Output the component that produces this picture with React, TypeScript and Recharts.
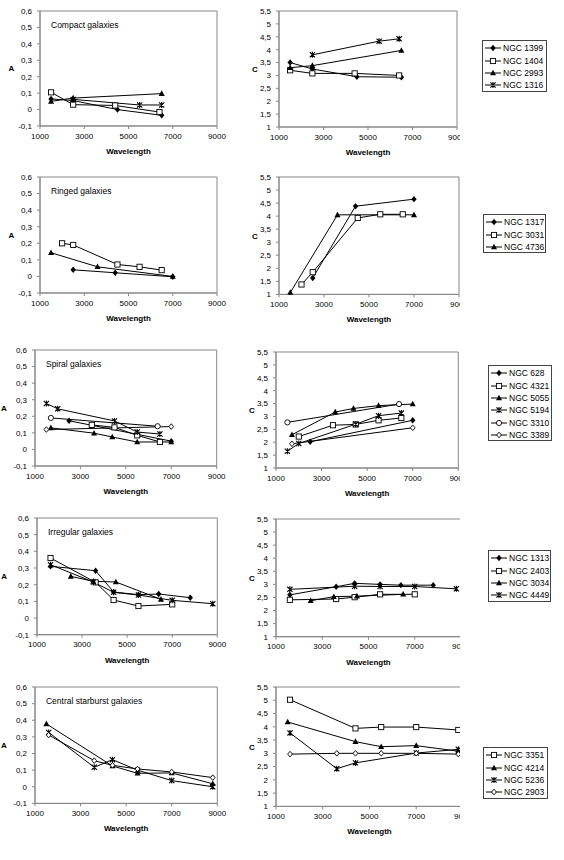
import React from "react";
import { LineChart, Line, XAxis, YAxis, ReferenceArea } from "recharts";

type Pt = [number, number];
type Kind = "diamond" | "square" | "triangle" | "star" | "circle" | "odiamond";

// axis ticks
const waveTicks = [1000, 3000, 5000, 7000, 9000];
const aTicks = [-0.1, 0, 0.1, 0.2, 0.3, 0.4, 0.5, 0.6];
const cTicks = [1, 1.5, 2, 2.5, 3, 3.5, 4, 4.5, 5, 5.5];

// Compact galaxies
const compactNames = ["NGC 1399", "NGC 1404", "NGC 2993", "NGC 1316"];
const compactKinds: Kind[] = ["diamond", "square", "triangle", "star"];
const cmp1399A: Pt[] = [[1500, 0.065], [2500, 0.055], [4500, 0.0], [6500, -0.035]];
const cmp1404A: Pt[] = [[1500, 0.105], [2500, 0.03], [4400, 0.025], [6400, -0.015]];
const cmp2993A: Pt[] = [[1500, 0.05], [2500, 0.07], [6500, 0.097]];
const cmp1316A: Pt[] = [[2500, 0.062], [5500, 0.028], [6500, 0.028]];
const cmp1399C: Pt[] = [[1500, 3.5], [2500, 3.25], [4500, 2.95], [6500, 2.93]];
const cmp1404C: Pt[] = [[1500, 3.2], [2500, 3.08], [4400, 3.08], [6400, 3.0]];
const cmp2993C: Pt[] = [[1500, 3.3], [2500, 3.38], [6500, 3.97]];
const cmp1316C: Pt[] = [[2500, 3.8], [5500, 4.33], [6400, 4.42]];

// Ringed galaxies
const ringNames = ["NGC 1317", "NGC 3031", "NGC 4736"];
const ringKinds: Kind[] = ["diamond", "square", "triangle"];
const rng1317A: Pt[] = [[2500, 0.04], [4400, 0.022], [7000, -0.002]];
const rng3031A: Pt[] = [[2000, 0.2], [2500, 0.19], [4500, 0.072], [5500, 0.058], [6500, 0.038]];
const rng4736A: Pt[] = [[1500, 0.143], [3600, 0.058], [7000, 0.0]];
const rng1317C: Pt[] = [[2500, 1.63], [4400, 4.38], [7000, 4.65]];
const rng3031C: Pt[] = [[2000, 1.38], [2500, 1.85], [4500, 3.93], [5500, 4.07], [6500, 4.07]];
const rng4736C: Pt[] = [[1500, 1.07], [3600, 4.05], [7000, 4.05]];

// Spiral galaxies
const spiralNames = ["NGC 628", "NGC 4321", "NGC 5055", "NGC 5194", "NGC 3310", "NGC 3389"];
const spiralKinds: Kind[] = ["diamond", "square", "triangle", "star", "circle", "odiamond"];
const sp628A: Pt[] = [[2500, 0.173], [7000, 0.05]];
const sp4321A: Pt[] = [[3500, 0.148], [4500, 0.133], [5500, 0.085], [6500, 0.045]];
const sp5055A: Pt[] = [[1700, 0.13], [3600, 0.098], [4400, 0.075], [5500, 0.045], [7000, 0.045]];
const sp5194A: Pt[] = [[1500, 0.277], [2000, 0.245], [4500, 0.172], [5500, 0.105], [6500, 0.093]];
const sp3310A: Pt[] = [[1700, 0.19], [6400, 0.14]];
const sp3389A: Pt[] = [[1500, 0.12], [7000, 0.138]];
const sp628C: Pt[] = [[2500, 2.02], [7000, 2.85]];
const sp4321C: Pt[] = [[2000, 2.22], [3500, 2.66], [4500, 2.69], [5500, 2.85], [6500, 2.94]];
const sp5055C: Pt[] = [[1700, 2.29], [3600, 3.17], [4400, 3.31], [5500, 3.42], [7000, 3.48]];
const sp5194C: Pt[] = [[1500, 1.65], [2000, 1.95], [4500, 2.7], [5500, 3.03], [6500, 3.13]];
const sp3310C: Pt[] = [[1500, 2.77], [6400, 3.48]];
const sp3389C: Pt[] = [[1700, 1.94], [7000, 2.56]];

// Irregular galaxies
const irrNames = ["NGC 1313", "NGC 2403", "NGC 3034", "NGC 4449"];
const irrKinds: Kind[] = ["diamond", "square", "triangle", "star"];
const ir1313A: Pt[] = [[1600, 0.31], [3600, 0.284], [4400, 0.156], [5500, 0.14], [6400, 0.144], [7800, 0.122]];
const ir2403A: Pt[] = [[1600, 0.36], [3600, 0.214], [4400, 0.108], [5500, 0.072], [7000, 0.082]];
const ir3034A: Pt[] = [[2500, 0.25], [3500, 0.22], [4500, 0.216], [6500, 0.112]];
const ir4449A: Pt[] = [[1600, 0.32], [3500, 0.216], [4400, 0.154], [5500, 0.138], [7000, 0.106], [8800, 0.086]];
const ir1313C: Pt[] = [[1600, 2.6], [3600, 2.91], [4400, 3.04], [5500, 3.0], [6400, 2.97], [7800, 2.97]];
const ir2403C: Pt[] = [[1600, 2.41], [3600, 2.44], [4400, 2.51], [5500, 2.62], [7000, 2.62]];
const ir3034C: Pt[] = [[2500, 2.375], [3500, 2.53], [4500, 2.55], [6500, 2.62]];
const ir4449C: Pt[] = [[1600, 2.81], [4400, 2.93], [5500, 2.92], [7000, 2.92], [8800, 2.83]];

// Central starburst galaxies
const sbNames = ["NGC 3351", "NGC 4214", "NGC 5236", "NGC 2903"];
const sbKinds: Kind[] = ["square", "triangle", "star", "odiamond"];
const sb4214A: Pt[] = [[1500, 0.378], [4400, 0.125], [5500, 0.081], [7000, 0.083], [8800, 0.018]];
const sb5236A: Pt[] = [[1600, 0.327], [3600, 0.117], [4400, 0.163], [5500, 0.1], [7000, 0.037], [8800, 0.0]];
const sb2903A: Pt[] = [[1600, 0.311], [3600, 0.157], [4400, 0.129], [5500, 0.107], [7000, 0.089], [8800, 0.055]];
const sb3351C: Pt[] = [[1600, 5.02], [4400, 3.94], [5500, 3.99], [7000, 3.99], [8800, 3.88]];
const sb4214C: Pt[] = [[1500, 4.18], [4400, 3.44], [5500, 3.25], [7000, 3.29], [8800, 3.08]];
const sb5236C: Pt[] = [[1600, 3.77], [3600, 2.42], [4400, 2.64], [7000, 3.01], [8800, 3.15]];
const sb2903C: Pt[] = [[1600, 2.97], [3600, 3.0], [4400, 3.0], [5500, 3.0], [7000, 3.0], [8800, 2.97]];

const fmt = (v: number) => String(v).replace(".", ",");
const toRows = (pts: Pt[]) => pts.map(([x, y]) => ({ x, y }));

function Marker({ cx, cy, kind }: { cx: number; cy: number; kind: Kind }) {
  const sw = 0.9;
  switch (kind) {
    case "diamond":
      return <path d={`M${cx},${cy - 3.2}L${cx + 2.7},${cy}L${cx},${cy + 3.2}L${cx - 2.7},${cy}Z`} fill="#000" />;
    case "square":
      return <rect x={cx - 2.6} y={cy - 2.6} width={5.2} height={5.2} fill="#fff" stroke="#000" strokeWidth={sw} />;
    case "triangle":
      return <path d={`M${cx},${cy - 3.3}L${cx + 3},${cy + 2.3}L${cx - 3},${cy + 2.3}Z`} fill="#000" />;
    case "star":
      return (
        <path
          d={`M${cx - 2.6},${cy - 2.6}L${cx + 2.6},${cy + 2.6}M${cx - 2.6},${cy + 2.6}L${cx + 2.6},${cy - 2.6}M${cx},${cy - 3}L${cx},${cy + 3}`}
          stroke="#000"
          strokeWidth={1.1}
          fill="none"
        />
      );
    case "circle":
      return <circle cx={cx} cy={cy} r={2.6} fill="#fff" stroke="#000" strokeWidth={sw} />;
    case "odiamond":
      return <path d={`M${cx},${cy - 2.8}L${cx + 2.4},${cy}L${cx},${cy + 2.8}L${cx - 2.4},${cy}Z`} fill="#fff" stroke="#000" strokeWidth={sw} />;
  }
  return null;
}

interface PanelProps {
  box: [number, number, number, number];
  series: Pt[][];
  kinds: Kind[];
  ticks: number[];
  yLabel: string;
  labelX: number;
  title?: string;
  clipRight?: number;
}

function Panel({ box, series, kinds, ticks, yLabel, labelX, title, clipRight }: PanelProps) {
  const [x0, y0, x1, y1] = box;
  const yw = 40;
  const mt = 10;
  const mr = 12;
  const xh = 34;
  const left = x0 - yw;
  const w = x1 - x0 + yw + mr;
  const h = y1 - y0 + mt + xh;
  const dom: [number, number] = [ticks[0], ticks[ticks.length - 1]];
  const grey = "#888";
  return (
    <div
      style={{
        position: "absolute",
        left,
        top: y0 - mt,
        width: clipRight ? clipRight - left : w,
        height: h,
        overflow: "hidden",
      }}
    >
      <LineChart width={w} height={h} margin={{ top: mt, right: mr, left: 0, bottom: 0 }}>
        <XAxis
          type="number"
          dataKey="x"
          domain={[1000, 9000]}
          ticks={waveTicks}
          interval={0}
          height={xh}
          tickSize={3}
          tickMargin={4}
          stroke={grey}
          tick={{ fontSize: 8, fill: "#000" }}
          label={{ value: "Wavelength", position: "insideBottom", offset: 6, style: { fontSize: 8, fontWeight: "bold", fill: "#000" } }}
        />
        <YAxis
          type="number"
          dataKey="y"
          domain={dom}
          ticks={ticks}
          interval={0}
          width={yw}
          tickSize={3}
          tickMargin={5}
          stroke={grey}
          tickFormatter={fmt}
          tick={{ fontSize: 8, fill: "#000" }}
          label={{ value: yLabel, position: "insideLeft", offset: labelX - left, style: { fontSize: 8, fontWeight: "bold", fill: "#000" } }}
        />
        <ReferenceArea
          x1={1000}
          x2={9000}
          y1={dom[0]}
          y2={dom[1]}
          fill="none"
          fillOpacity={0}
          stroke={grey}
          strokeWidth={1}
          label={title ? { value: title, position: "insideTopLeft", offset: 11, style: { fontSize: 8.5, fill: "#000" } } : undefined}
        />
        {series.map((pts, i) => (
          <Line
            key={i}
            data={toRows(pts)}
            dataKey="y"
            stroke="#000"
            strokeWidth={1}
            isAnimationActive={false}
            dot={(p: any) => <Marker key={`d${i}-${p.index}`} cx={p.cx} cy={p.cy} kind={kinds[i]} />}
            activeDot={false}
          />
        ))}
      </LineChart>
    </div>
  );
}

function Legend({ left, top, width, names, kinds }: { left: number; top: number; width: number; names: string[]; kinds: Kind[] }) {
  const rh = 12.4;
  return (
    <div
      style={{
        position: "absolute",
        left,
        top,
        width,
        height: names.length * rh + 2,
        border: "1px solid #444",
        boxSizing: "border-box",
        paddingTop: 1,
      }}
    >
      {names.map((n, i) => (
        <div key={n} style={{ height: rh, display: "flex", alignItems: "center" }}>
          <svg width={20} height={10} style={{ flex: "none" }}>
            <line x1={2} y1={5} x2={18} y2={5} stroke="#000" strokeWidth={1} />
            <Marker cx={10} cy={5} kind={kinds[i]} />
          </svg>
          <span style={{ fontSize: 8.5, lineHeight: "10px", color: "#000", whiteSpace: "nowrap" }}>{n}</span>
        </div>
      ))}
    </div>
  );
}

export default function App() {
  return (
    <div
      style={{
        position: "absolute",
        left: 0,
        top: 0,
        width: 564,
        height: 860,
        background: "#fff",
        fontFamily: "'Liberation Sans', Arial, sans-serif",
      }}
    >
      <Panel box={[39.5, 10.5, 216.5, 125.5]} series={[cmp1399A, cmp1404A, cmp2993A, cmp1316A]} kinds={compactKinds} ticks={aTicks} yLabel="A" labelX={8} title="Compact galaxies" />
      <Panel box={[279, 10.7, 457, 126.7]} series={[cmp1399C, cmp1404C, cmp2993C, cmp1316C]} kinds={compactKinds} ticks={cTicks} yLabel="C" labelX={252} clipRight={460} />
      <Legend left={482} top={40} width={65} names={compactNames} kinds={compactKinds} />

      <Panel box={[39.5, 177.3, 216.5, 293.3]} series={[rng1317A, rng3031A, rng4736A]} kinds={ringKinds} ticks={aTicks} yLabel="A" labelX={8} title="Ringed galaxies" />
      <Panel box={[279, 177.3, 459, 294.7]} series={[rng1317C, rng3031C, rng4736C]} kinds={ringKinds} ticks={cTicks} yLabel="C" labelX={252} clipRight={460} />
      <Legend left={483} top={214} width={63} names={ringNames} kinds={ringKinds} />

      <Panel box={[35, 350.3, 216.7, 466.3]} series={[sp628A, sp4321A, sp5055A, sp5194A, sp3310A, sp3389A]} kinds={spiralKinds} ticks={aTicks} yLabel="A" labelX={1} title="Spiral galaxies" />
      <Panel box={[276, 351.7, 458.3, 467.7]} series={[sp628C, sp4321C, sp5055C, sp5194C, sp3310C, sp3389C]} kinds={spiralKinds} ticks={cTicks} yLabel="C" labelX={249} clipRight={460} />
      <Legend left={488} top={365} width={64} names={spiralNames} kinds={spiralKinds} />

      <Panel box={[36.7, 518.3, 217, 635]} series={[ir1313A, ir2403A, ir3034A, ir4449A]} kinds={irrKinds} ticks={aTicks} yLabel="A" labelX={1} title="Irregular galaxies" />
      <Panel box={[276, 519, 461, 636.7]} series={[ir1313C, ir2403C, ir3034C, ir4449C]} kinds={irrKinds} ticks={cTicks} yLabel="C" labelX={249} clipRight={460} />
      <Legend left={488} top={550} width={63} names={irrNames} kinds={irrKinds} />

      <Panel box={[35, 687.3, 217.3, 803.7]} series={[[], sb4214A, sb5236A, sb2903A]} kinds={sbKinds} ticks={aTicks} yLabel="A" labelX={1} title="Central starburst galaxies" />
      <Panel box={[276, 687.3, 463, 806.7]} series={[sb3351C, sb4214C, sb5236C, sb2903C]} kinds={sbKinds} ticks={cTicks} yLabel="C" labelX={249} clipRight={460} />
      <Legend left={483} top={747} width={65} names={sbNames} kinds={sbKinds} />
    </div>
  );
}
